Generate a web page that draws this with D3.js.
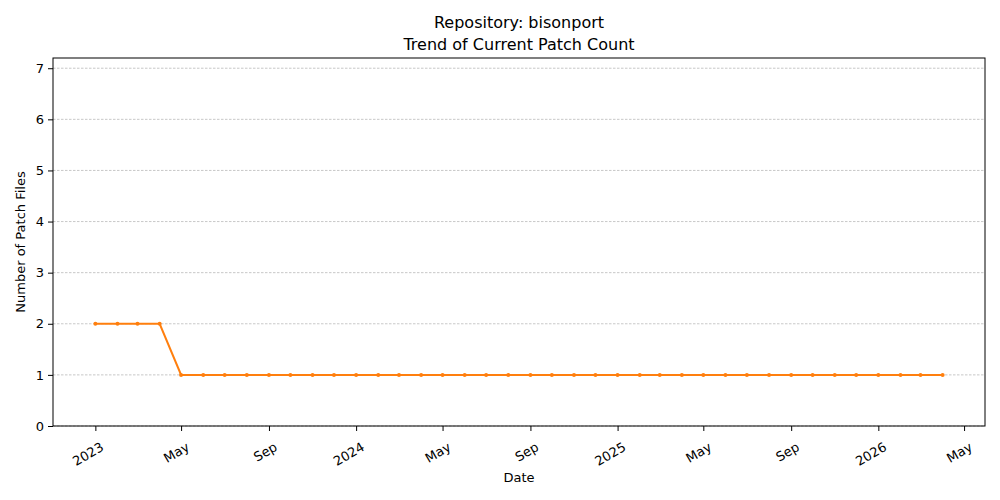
<!DOCTYPE html>
<html>
<head>
<meta charset="utf-8">
<script src="https://cdn.jsdelivr.net/npm/d3@7"></script>
<style>
  body { margin: 0; background: #fff; }
  text { font-family: "DejaVu Sans", sans-serif; fill: #000; }
</style>
</head>
<body>
<div id="canvas"></div>
<script>
// Monthly snapshots of the patch count
var dates = [
  "2023-01-01", "2023-02-01", "2023-03-01", "2023-04-01", "2023-05-01", "2023-06-01",
  "2023-07-01", "2023-08-01", "2023-09-01", "2023-10-01", "2023-11-01", "2023-12-01",
  "2024-01-01", "2024-02-01", "2024-03-01", "2024-04-01", "2024-05-01", "2024-06-01",
  "2024-07-01", "2024-08-01", "2024-09-01", "2024-10-01", "2024-11-01", "2024-12-01",
  "2025-01-01", "2025-02-01", "2025-03-01", "2025-04-01", "2025-05-01", "2025-06-01",
  "2025-07-01", "2025-08-01", "2025-09-01", "2025-10-01", "2025-11-01", "2025-12-01",
  "2026-01-01", "2026-02-01", "2026-03-01", "2026-04-01"
];
var patchCounts = [
  2, 2, 2, 2, 1, 1, 1, 1, 1, 1, 1, 1,
  1, 1, 1, 1, 1, 1, 1, 1, 1, 1, 1, 1,
  1, 1, 1, 1, 1, 1, 1, 1, 1, 1, 1, 1,
  1, 1, 1, 1
];
var xTicks = [
  "2023-01-01", "2023-05-01", "2023-09-01", "2024-01-01", "2024-05-01", "2024-09-01",
  "2025-01-01", "2025-05-01", "2025-09-01", "2026-01-01", "2026-05-01"
];
var yTicks = [0, 1, 2, 3, 4, 5, 6, 7];

var W = 1000, H = 500;
var margin = { left: 53, right: 15, top: 58, bottom: 74 };
var parse = d3.utcParse("%Y-%m-%d");

var data = dates.map(function (d, i) { return { date: parse(d), value: patchCounts[i] }; });

var svg = d3.select("#canvas").append("svg")
  .attr("width", W)
  .attr("height", H);

// matplotlib style 5% padding on the date range
var ext = d3.extent(data, function (d) { return d.date; });
var pad = (ext[1] - ext[0]) * 0.05;
var x = d3.scaleUtc()
  .domain([new Date(+ext[0] - pad), new Date(+ext[1] + pad)])
  .range([margin.left, W - margin.right]);

var y = d3.scaleLinear()
  .domain([0, 7.2])
  .range([H - margin.bottom, margin.top]);

// grid lines on y
svg.append("g")
  .selectAll("line")
  .data(yTicks)
  .enter().append("line")
  .attr("x1", margin.left)
  .attr("x2", W - margin.right)
  .attr("y1", function (d) { return y(d); })
  .attr("y2", function (d) { return y(d); })
  .style("stroke", "#b0b0b0")
  .style("stroke-width", 0.7)
  .style("stroke-dasharray", "2.5,1.5");

// x axis
var xAxis = svg.append("g")
  .attr("transform", "translate(0," + (H - margin.bottom) + ")")
  .call(d3.axisBottom(x)
    .tickValues(xTicks.map(parse))
    .tickSize(5)
    .tickPadding(4)
    .tickFormat(function (d) {
      return d.getUTCMonth() === 0 ? d3.utcFormat("%Y")(d) : d3.utcFormat("%b")(d);
    }));
xAxis.select(".domain").remove();
xAxis.selectAll("text")
  .style("font-size", "13px")
  .attr("text-anchor", "end")
  .attr("dy", "0.35em")
  .attr("transform", "translate(2,12) rotate(-30)");

// y axis
var yAxis = svg.append("g")
  .attr("transform", "translate(" + margin.left + ",0)")
  .call(d3.axisLeft(y).tickValues(yTicks).tickSize(5).tickPadding(4));
yAxis.select(".domain").remove();
yAxis.selectAll("text").style("font-size", "13px");

// frame
svg.append("rect")
  .attr("x", margin.left)
  .attr("y", margin.top)
  .attr("width", W - margin.left - margin.right)
  .attr("height", H - margin.top - margin.bottom)
  .style("fill", "none")
  .style("stroke", "#000")
  .style("stroke-width", 1);

// the line
var line = d3.line()
  .x(function (d) { return x(d.date); })
  .y(function (d) { return y(d.value); });

svg.append("path")
  .datum(data)
  .attr("d", line)
  .style("fill", "none")
  .style("stroke", "#ff7f0e")
  .style("stroke-width", 2);

svg.append("g")
  .selectAll("circle")
  .data(data)
  .enter().append("circle")
  .attr("cx", function (d) { return x(d.date); })
  .attr("cy", function (d) { return y(d.value); })
  .attr("r", 2)
  .style("fill", "#ff7f0e");

// titles and labels
var cx = (margin.left + W - margin.right) / 2;
svg.append("text")
  .attr("x", cx).attr("y", 28)
  .attr("text-anchor", "middle")
  .style("font-size", "16px")
  .text("Repository: bisonport");
svg.append("text")
  .attr("x", cx).attr("y", 50)
  .attr("text-anchor", "middle")
  .style("font-size", "16px")
  .text("Trend of Current Patch Count");

svg.append("text")
  .attr("x", cx).attr("y", 482)
  .attr("text-anchor", "middle")
  .style("font-size", "13px")
  .text("Date");

svg.append("text")
  .attr("transform", "translate(25," + ((margin.top + H - margin.bottom) / 2) + ") rotate(-90)")
  .attr("text-anchor", "middle")
  .style("font-size", "13px")
  .text("Number of Patch Files");
</script>
</body>
</html>
